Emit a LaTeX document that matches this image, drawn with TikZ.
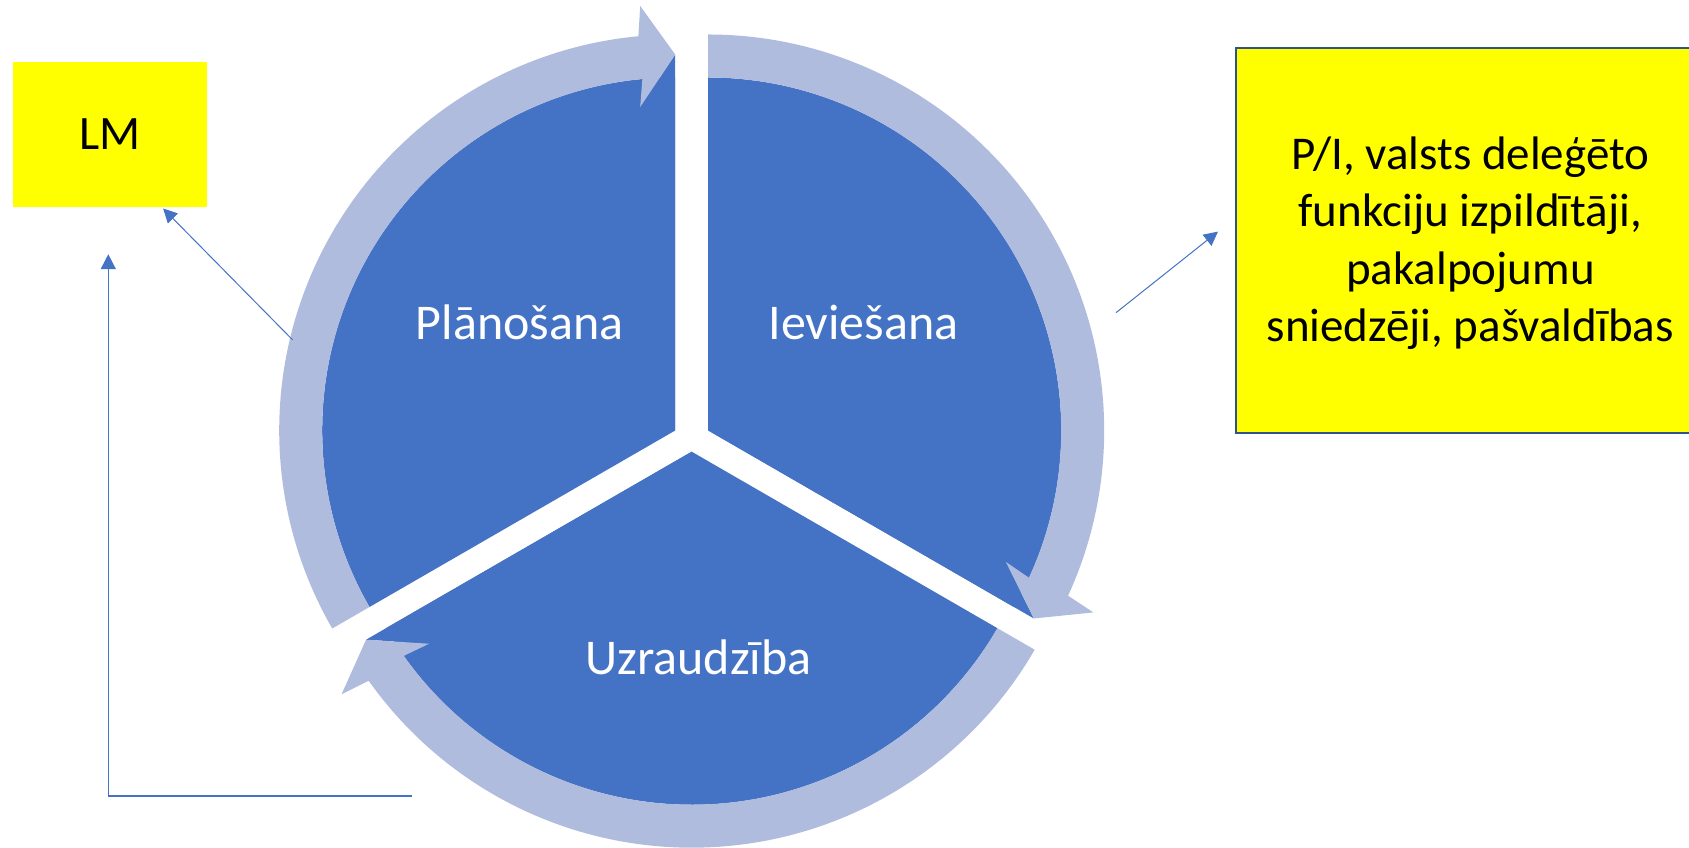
\documentclass[tikz,border=0pt]{standalone}
\usepackage{fontspec}
\setmainfont{Carlito}
\usetikzlibrary{calc,arrows.meta}
\definecolor{dark}{HTML}{4472C4}
\definecolor{light}{RGB}{176,188,222}
\definecolor{boxborder}{HTML}{2F528F}
\definecolor{yel}{HTML}{FFFF00}
% #1 apex, #2 start angle, #3 tip angle (clockwise)
\newcommand\ringarrow[3]{%
  \fill[dark] (#1) -- ($(#1)+(#3:376)$) -- ($(#1)+(#3:323.5)+(#3+90:35)$) -- cycle;
  \fill[light] ($(#1)+(#2:396)$) arc[start angle=#2, end angle=#3+5.34, radius=396]
    -- ($(#1)+(#3:424.5)+(#3+90:35)$)
    -- ($(#1)+(#3:376)$)
    -- ($(#1)+(#3:323.5)+(#3+90:35)$)
    -- ($(#1)+(#3+5.34:353)$) arc[start angle=#3+5.34, end angle=#2, radius=353]
    -- cycle;}
\begin{document}
\begin{tikzpicture}[x=1pt,y=1pt,
  lbl/.style={text=white, font=\fontsize{50}{60}\selectfont, inner sep=0pt, anchor=base},
  lmbox/.style={fill=yel, minimum width=194.6pt, minimum height=144.4pt, inner sep=0pt, font=\fontsize{48}{58}\selectfont},
  pibox/.style={fill=yel, draw=boxborder, line width=2pt, minimum width=480pt, minimum height=384.4pt, inner sep=0pt, anchor=north west},
  pitext/.style={text width=470pt, align=flush center, inner sep=0pt, anchor=base, font=\fontsize{47}{57.5}\selectfont},
  conn/.style={draw=dark, line width=1pt, -{Triangle[length=14pt,width=14pt]}},
  elbow/.style={draw=dark, line width=1.5pt, -{Triangle[length=15pt,width=15pt]}}]
\useasboundingbox (0,0) rectangle (1689,848);
\clip (0,0) rectangle (1689,848);
% apexes of the three segments
\coordinate (P) at (675.2,417.5);
\coordinate (I) at (708.2,417.5);
\coordinate (U) at (691.7,396.3);
% dark segments
\fill[dark] (P) -- ++(90:353) arc[start angle=90, end angle=210, radius=353] -- cycle;
\fill[dark] (I) -- ++(-30:353) arc[start angle=-30, end angle=90, radius=353] -- cycle;
\fill[dark] (U) -- ++(210:353) arc[start angle=210, end angle=330, radius=353] -- cycle;
% light circular arrows
\ringarrow{P}{210}{90}
\ringarrow{I}{90}{-30}
\ringarrow{U}{330}{210}
% labels
\node[lbl] (plan) at (519.7,508.7) {Plānošana};
\node[lbl] (iev) at (863.4,508.7) {Ieviešana};
\node[lbl] (uzr) at (698.6,173) {Uzraudzība};
% boxes
\node[lmbox] (lm) at (110,713.5) {LM};
\node[pibox] (pi) at (1234.5,800.7) {};
\node[pitext] (pitxt) at (1470.4,678.7) {P/I, valsts deleģēto\\ funkciju izpildītāji,\\ pakalpojumu\\ sniedzēji, pašvaldības};
% connectors
\coordinate (c1) at (292.7,508);
\coordinate (c2) at (1116,535.3);
\coordinate (c3) at (411.7,52);
\draw[conn] (c1) -- ($(lm.south west)+(150.6,-1.6)$);
\draw[conn] (c2) -- ($(pi.north west)+(-16.5,-184.3)$);
\draw[elbow] (c3) -| ($(lm.south)+(-1.7,-47.3)$);
\end{tikzpicture}
\end{document}
